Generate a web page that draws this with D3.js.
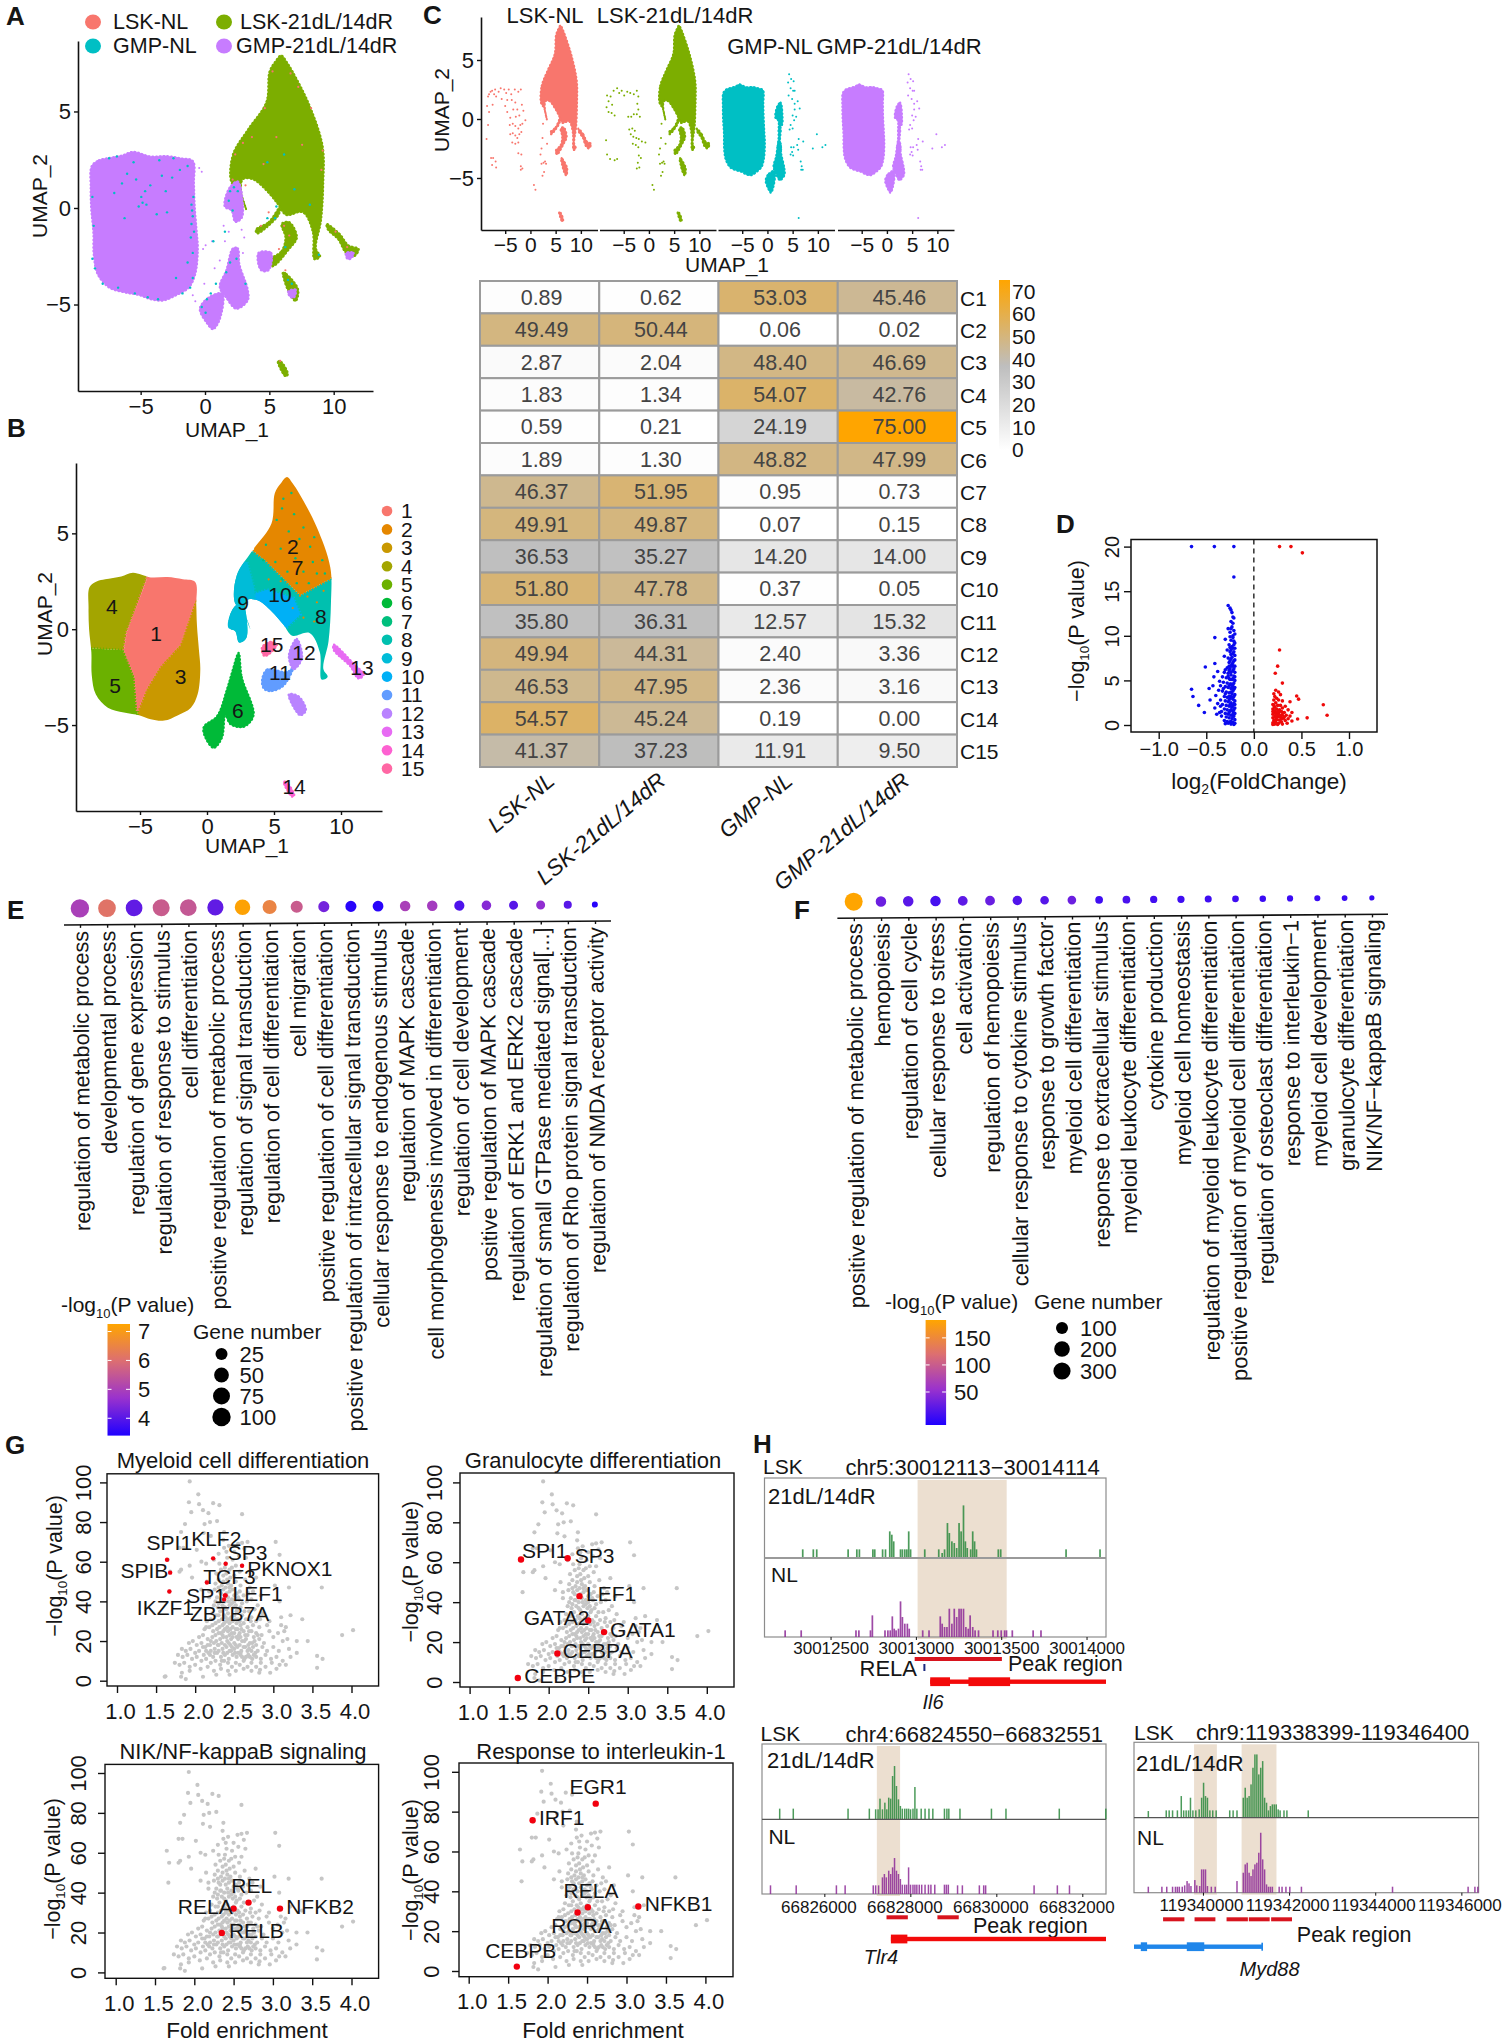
<!DOCTYPE html>
<html>
<head>
<meta charset="utf-8">
<script src="https://cdnjs.cloudflare.com/ajax/libs/d3/7.8.5/d3.min.js"></script>
<style>
  body { margin: 0; background: #fff; }
  svg { display: block; }
  text { font-family: "Liberation Sans", Arial, sans-serif; fill: #151515; }
</style>
</head>
<body>
<div id="chart"></div>
<script>
const gmpSquare = [[-8.76,2.2],[-8.2,2.5],[-7.6,2.6],[-6.4,2.75],[-5.53,2.94],[-4.2,2.7],[-2.95,2.72],[-1.8,2.6],[-0.88,2.46],[-0.8,1.3],[-0.75,0.2],[-0.6,-1.1],[-0.5,-2.1],[-0.7,-3.4],[-1.2,-4.1],[-2.2,-4.5],[-3.2,-4.77],[-4.2,-4.7],[-5.01,-4.5],[-6.2,-4.35],[-7.4,-4.1],[-8.3,-3.4],[-8.6,-2.4],[-8.63,-1.2],[-8.8,0],[-8.84,1.1]];
const gmpStemTop = [[1.96,1.09],[2.61,1.4],[3,0.23],[2.9,-0.5],[2.4,-0.7],[2.1,-0.1],[1.58,0.09]];
const gmpLink = [[2.3,-0.6],[2.6,-0.7],[2.5,-1.9],[2.7,-2.6],[2.1,-2.6],[2.2,-1.6]];
const gmpBlob = [[2.22,-2.06],[2.6,-2.06],[2.74,-2.91],[3.38,-4.2],[3.38,-4.77],[2.48,-5.2],[1.7,-4.63],[1.19,-4.06],[1.7,-3.2]];
const gmpTail = [[-0.36,-5.2],[0.28,-4.63],[1.4,-4.4],[1.19,-5.77],[0.67,-6.26],[0.16,-5.91]];
const lskBody = [[2.09,1.37],[2.22,2.8],[3.38,4.09],[4.81,5.51],[5.06,7.09],[5.5,7.6],[5.97,7.94],[6.4,7.6],[6.87,7.09],[8.16,5.37],[9.2,3.23],[9.25,1.37],[9.07,-0.63],[8.68,-2.06],[9,-2.49],[8.55,-2.63],[8.42,-1.2],[7.65,-0.2],[6.36,-0.34],[5.71,0.23],[4.81,0.94],[3.77,1.51],[3,1.51],[2.87,0.8],[3.26,-0.06],[2.74,0.9]];
const lskLegA = [[4,-1.1],[5,-0.7],[5.9,0.1],[5.8,-0.3],[4.9,-0.95],[4.1,-1.3]];
const lskLegB = [[5,-2.7],[6,-2.2],[6.3,-1.5],[6,-0.8],[6.6,-0.7],[7.2,-1.5],[6.6,-2.1],[5.3,-3]];
const lskLegC = [[6.1,-3.3],[6.4,-3.4],[7.3,-4.2],[7.1,-4.8],[6.6,-4.4]];
const lskStreak = [[9.5,-0.8],[10.5,-1.3],[11.2,-1.9],[12,-2.1],[11.6,-2.5],[11,-2.3],[10.4,-1.6],[9.6,-1.1]];
const lskBottom = [[5.7,-7.9],[6,-7.95],[6.5,-8.6],[6.3,-8.7]];
const gmpPatches = [[[4.2,-2.3],[5.2,-2.3],[5,-3.2],[4.4,-3.2]], [[6.5,-4.3],[7.1,-4.2],[7,-4.6],[6.7,-4.6]], [[11,-2.3],[11.6,-2.3],[11.4,-2.6],[11.1,-2.6]]];

// cluster regions for panel B; the first two groups get clipped to the outlines above
const clusterIds = ["1","2","3","4","5","6","7","8","9","10","11","12","13","14","15"];
const clusterColors = ["#F8766D","#E58700","#C99800","#A3A500","#6BB100","#00BA38","#00BF7D","#00C0AF","#00BCD8","#00B0F6","#619CFF","#B983FF","#E76BF3","#FD61D1","#FF67A4"];
const squareClusters = [
  ["3", [[-0.87,1.5],[0,1.6],[0.5,-6],[-5,-6],[-5.2,-4.3],[-4.5,-3.1],[-3.5,-1.95],[-2,-0.8]]],
  ["4", [[-10,4],[-4.5,4],[-4.5,2.6],[-6,-0.2],[-6.2,-1.1],[-10,-0.95]]],
  ["5", [[-10,-0.95],[-6.2,-1.1],[-5.4,-2.5],[-5,-6],[-10,-6]]],
  ["1", [[-4.5,4],[0,4],[0,1.6],[-0.87,1.5],[-2,-0.8],[-3.5,-1.95],[-4.5,-3.1],[-5.2,-4.3],[-5.4,-2.5],[-6.2,-1.1],[-6,-0.2],[-4.5,2.6]]]
];
const lobeClusters = [
  ["8", [[1,4],[3.5,4.07],[4.5,3.5],[6.95,1.78],[9.2,2.63],[10,2.8],[10,-3],[7,-3],[2,-1]]],
  ["2", [[3.5,4.07],[4,9],[10,9],[10,2.8],[9.2,2.63],[6.95,1.78],[4.5,3.5]]],
  ["10", [[3.23,1.78],[4.48,2.06],[6.47,1.63],[6.97,0.77],[5.97,0.1],[5.22,0.1],[4.48,0.5],[3.6,1.2]]],
  ["9", [[1,3.5],[3,3.5],[3.5,2.2],[3.6,1.49],[3.77,0],[3.4,-1.5],[1,-1.5]]]
];
const freeClusters = [
  ["6", [[2.36,-1.23],[2.6,-2.5],[3.48,-4.5],[2.74,-5.1],[1.74,-4.96],[1.37,-4.5],[1.12,-5.67],[0.5,-6.2],[-0.12,-5.67],[-0.25,-5.1],[0.75,-4.53],[1.5,-3.1],[1.87,-2.23]]],
  ["11", [[4.1,-2.66],[4.48,-2.1],[5.97,-2.23],[6.47,-1.95],[5.72,-2.95],[4.73,-3.24],[4.23,-3.1]]],
  ["12", [[6.1,-1.38],[6.7,-0.5],[7.1,-1.5],[6.47,-2.1]]],
  ["12", [[6.1,-3.4],[6.84,-3.5],[7.39,-4.24],[6.97,-4.5],[6.6,-4.24]]],
  ["13", [[9.45,-0.8],[10.95,-1.8],[11.7,-2.38],[11.3,-2.58],[10.7,-1.95],[9.45,-1.09]]],
  ["14", [[5.72,-7.97],[5.92,-7.97],[6.52,-8.68],[6.34,-8.74]]],
  ["15", [[4.1,-0.95],[4.73,-0.66],[5.22,-0.8],[4.48,-1.38],[4.23,-1.38]]]
];
const clusterLabelX = [-3.8,6.4,-1.97,-7.1,-6.86,2.3,6.77,8.5,2.7,5.45,5.45,7.24,11.57,6.5,4.83];
const clusterLabelY = [-0.23,4.28,-2.48,1.15,-2.97,-4.24,3.21,0.63,1.36,1.78,-2.27,-1.22,-1.99,-8.2,-0.8];

// ---- scattered cells ----
const tealSpeckle = [[-6,1.8],[-5.5,2.4],[-4.6,0.9],[-4.8,0.3],[-5.1,0.1],[-4.2,1.2],[-3.7,-0.3],[-3,0.9],[-2.5,1.6],[-1.9,2],[-1.3,2.2],[-1,0.2],[-0.9,-0.4],[-1,-0.8],[-0.8,-1.2],[-7.4,2.6],[-6.8,2.7],[-8.7,0.6],[-8.6,-0.9],[-7,0.8],[-6.2,-0.5],[-2.2,-3.6],[-0.9,-3.6],[-1.1,-4.1],[-3.6,-4.7],[-1.7,-4.4],[2,0.9],[2.3,1.1],[2.6,0.9],[1.9,0.4],[2.2,-0.1],[2.5,-2.6],[2,-2.8],[1.7,-3.3],[0.9,-3.9],[0.5,-4.4],[0.2,-4.7],[-0.2,-5.1],[0.1,-5.4],[3.2,-3.9],[5.6,0.1],[5.5,-0.5],[4.9,-0.5],[6.3,-2],[6.8,-3.9],[6.5,-3.7],[8.9,-2.4],[6.2,2.8],[4.9,2.4],[7,1],[8.2,0.2],[1.6,-1.2],[0.7,-1.7],[-4.9,0.6],[-4.5,0.2],[-5.3,1.5],[-6.4,1.3],[-3.3,1.7],[-2.9,-0.2],[-0.85,0.6],[-0.95,-0.1],[-1.05,-1.5],[-0.9,-2.3],[-1.3,-2.8],[-3.5,2.5],[-2.4,2.6],[-7.9,-3.9],[-6.7,-4.1],[-5.4,-4.4],[-4.4,-4.6],[-8.7,-2.6],[-8.5,-3.1]];
const salmonSpeckle = [[5.3,7.1],[6.7,7],[7.3,6.3],[8.3,5.2],[9.2,3],[9.1,2],[4.7,5.2],[3.7,3.7],[3,3.4],[2.4,2.8],[2.2,1.5],[3.2,1.2],[4.4,-0.9],[5,-0.2],[6.2,-0.9],[6.6,-1.4],[5.8,-2.1],[6.3,-3.2],[10.2,-1.2],[11.1,-2],[7.6,3.3],[5.6,3.7],[4.6,2.3],[5.9,-7.9]];
const purpleSpeckle = [[0.1,-1.9],[0.6,-1.7],[1.6,-1.7],[1.9,-1.2],[1.5,-0.9],[1.2,-2.7],[0.8,-3.1],[-0.1,-2.1],[-0.2,1.9],[-0.4,2.1],[0,-3.9],[-0.9,-4.5],[-0.7,-4.8],[3,-2.3],[3.1,-1.5],[2.9,-1.1],[0.4,-5.2]];
const speckleSeven = [[5.6,6.3],[6.5,6],[6.1,5.1],[7.2,5.3],[5.2,5.7],[6.9,4.7],[7.7,4.3],[5.5,4.2],[4.4,4.4],[6.6,3.7],[7.9,3.5],[8.6,3.6],[5.1,3.5],[6,3],[7.2,3],[8.2,2.9],[4.2,3.6],[5.6,2.6],[6.7,2.4],[7.6,2.4],[8.8,2.9],[5.7,6.8],[6.3,7.1],[8,4.8]];
const speckleOrange = [[7.5,1.7],[8.2,1.4],[8.7,2],[7.2,0.6],[6.4,1.1],[8,0.4],[4.6,2.6],[5.5,2.5]];
const sparseLskNl = [[-8.4,1.9],[-8.2,2.1],[-7.9,2.3],[-7.6,2.4],[-7.2,2.1],[-7,2.5],[-6.8,1.9],[-6.3,2.3],[-5.9,2.6],[-5.2,2.5],[-4.8,2.2],[-4.3,2.5],[-3.8,2.1],[-3.1,2.5],[-2.4,2.3],[-1.9,2.5],[-8.6,1.1],[-8.2,0.6],[-7.5,1.2],[-5.7,1.7],[-5,1.1],[-4.6,0.6],[-4,0.1],[-3.4,0.8],[-3,1.4],[-2.6,0.8],[-2.2,0.3],[-1.7,1.2],[-1.4,0.7],[-1,-0.1],[-4.6,1.6],[-3.7,1.6],[-2.9,0.2],[-8.4,-0.5],[-4.1,-0.5],[-3.5,-0.4],[-3,-0.6],[-2.4,-0.8],[-2,-0.5],[-1.6,-0.4],[-4,-1.3],[-3.5,-1.2],[-3,-1.4],[-2.6,-1.6],[-2.2,-1.3],[-1.8,-1.1],[-3.6,-2],[-3,-2.1],[-2.4,-2],[-8.7,-1.7],[-2.4,-2.9],[-1.8,-3],[-7.8,-3.3],[-7.4,-3.3],[-6.9,-3.6],[-7.6,-3.9],[-6.8,-4.1],[-1.9,-4],[-1.6,-4.2],[-1.9,-4.3]];
const sparseLskRd = [[-8.3,2],[-8,1.5],[-7.6,1.9],[-7.3,1.2],[-7,2.4],[-6.3,2.6],[-5.9,2.2],[-5.4,2.4],[-4.9,2],[-4.3,2.3],[-3.7,2.2],[-3,2.1],[-2.4,2.4],[-2.1,1.9],[-8.4,1],[-8,0.6],[-7.4,0.5],[-6.8,0.3],[-2.3,1.3],[-2.1,0.8],[-2.4,0.4],[-1.8,0.2],[-4.1,0.2],[-3.5,0.2],[-3,0.4],[-3.9,-0.9],[-3.3,-0.8],[-2.8,-1],[-3.6,-1.3],[-3.1,-1.5],[-2.5,-1.6],[-2,-1.7],[-1.4,-1.9],[-0.7,-2],[-3.2,-2.1],[-2.6,-2.2],[-2.1,-2.4],[-8.5,-1.8],[-8.3,-3],[-7.7,-3.4],[-6.8,-3.5],[-6.3,-3.4],[-2,-3.1],[-1.6,-3.3],[-2.2,-3.7],[-1.9,-4.1],[-2.4,-4.2]];
const sparseLskLow = [[2.5,-0.4],[2.4,-1.6],[2.2,-2.5],[2,-3],[2.9,-3.6],[2.6,-3.7],[3.1,-3.8],[2.7,-4.5],[2.4,-4.8],[0.7,-5.6],[1,-6],[3.3,-2.1],[2.2,-3.8]];
const sparseGmpRight = [[4.3,3.8],[4.7,3.4],[4.1,3.1],[5.2,3.2],[4.6,2.6],[4.2,2],[5.1,2.4],[5.4,2.4],[4.9,1.7],[5.4,1.3],[6,1.5],[5.4,0.8],[6.4,0.9],[5,0.3],[5.7,0.2],[5.3,-0.1],[4.6,-0.5],[5,-0.8],[4.4,-0.9],[6.2,-1.7],[9.8,-1.3],[9,-2.5],[10.9,-2.4],[11.5,-2.2],[6.2,-8.4],[7.1,-1.9],[5.9,-2.2],[6.1,-2.6],[5.2,-2.4],[4.7,-2.4],[4.6,-3],[5.1,-3.1],[4.9,-2.8],[6.8,-4],[7,-4.3],[6.6,-3.6],[6.7,-4.3]];

// ---- panel C heatmap ----
const heatGroups = ["LSK-NL","LSK-21dL/14dR","GMP-NL","GMP-21dL/14dR"];
const heatRows = ["C1","C2","C3","C4","C5","C6","C7","C8","C9","C10","C11","C12","C13","C14","C15"];
const heatLskNl = ["0.89","49.49","2.87","1.83","0.59","1.89","46.37","49.91","36.53","51.80","35.80","49.94","46.53","54.57","41.37"];
const heatLskRd = ["0.62","50.44","2.04","1.34","0.21","1.30","51.95","49.87","35.27","47.78","36.31","44.31","47.95","45.24","37.23"];
const heatGmpNl = ["53.03","0.06","48.40","54.07","24.19","48.82","0.95","0.07","14.20","0.37","12.57","2.40","2.36","0.19","11.91"];
const heatGmpRd = ["45.46","0.02","46.69","42.76","75.00","47.99","0.73","0.15","14.00","0.05","15.32","3.36","3.16","0.00","9.50"];
const heatTicks = [0,10,20,30,40,50,60,70];

// ---- panel D volcano ----
const volcanoBlue = [[-0.655,20],[-0.415,20],[-0.21,20],[-0.21,16.6],[-0.27,13.4],[-0.25,13.1],[-0.23,12.6],[-0.22,12.1],[-0.24,11.6],[-0.23,11],[-0.27,10.8],[-0.25,10.4],[-0.22,10],[-0.41,9.8],[-0.3,9.6],[-0.24,9.5],[-0.21,9.4],[-0.26,9],[-0.23,8.8],[-0.2,8.6],[-0.28,8.4],[-0.25,8.2],[-0.22,8],[-0.2,7.8],[-0.31,7.7],[-0.27,7.5],[-0.24,7.4],[-0.21,7.2],[-0.26,7],[-0.41,6.9],[-0.23,6.8],[-0.2,6.6],[-0.51,6.5],[-0.28,6.4],[-0.25,6.3],[-0.22,6.1],[-0.38,6],[-0.31,5.9],[-0.27,5.8],[-0.24,5.6],[-0.21,5.5],[-0.42,5.4],[-0.29,5.3],[-0.26,5.2],[-0.23,5.1],[-0.2,5],[-0.36,4.9],[-0.32,4.8],[-0.28,4.7],[-0.25,4.6],[-0.22,4.5],[-0.43,4.4],[-0.3,4.3],[-0.27,4.2],[-0.24,4.1],[-0.47,4.1],[-0.655,4],[-0.21,4],[-0.37,3.9],[-0.33,3.8],[-0.29,3.7],[-0.26,3.6],[-0.23,3.5],[-0.2,3.4],[-0.4,3.3],[-0.64,3.2],[-0.31,3.2],[-0.28,3.1],[-0.25,3],[-0.22,2.9],[-0.46,2.8],[-0.35,2.8],[-0.3,2.7],[-0.27,2.6],[-0.24,2.5],[-0.21,2.4],[-0.38,2.4],[-0.33,2.3],[-0.58,2.2],[-0.29,2.2],[-0.26,2.1],[-0.23,2],[-0.2,1.9],[-0.41,1.9],[-0.31,1.8],[-0.28,1.7],[-0.25,1.6],[-0.22,1.5],[-0.52,1.4],[-0.36,1.4],[-0.3,1.3],[-0.27,1.2],[-0.24,1.1],[-0.21,1],[-0.34,1],[-0.29,0.9],[-0.26,0.8],[-0.23,0.7],[-0.2,0.6],[-0.31,0.5],[-0.28,0.4],[-0.25,0.35],[-0.22,0.3],[-0.3,0.15],[-0.24,0.1],[-0.21,0.05],[-0.27,0.2],[-0.34,1.5],[-0.39,1.2],[-0.35,2.1],[-0.3,3.5],[-0.32,4.1],[-0.27,5.5],[-0.3,6.2],[-0.33,5.4],[-0.35,4.4],[-0.24,3.2],[-0.22,4.2],[-0.22,2.2],[-0.25,2.3],[-0.22,6.6],[-0.24,7.9],[-0.21,9],[-0.2,10.2],
  [-0.2,0.2],[-0.22,0.9],[-0.24,0.4],[-0.2,1.3],[-0.22,1.2],[-0.24,1.7],[-0.26,1.4],[-0.21,1.7],[-0.2,2.3],[-0.24,2.2],[-0.26,2.8],[-0.2,2.7],[-0.22,3.1],[-0.26,3.2],[-0.21,3.2],[-0.24,3.7],[-0.22,3.8],[-0.2,4.2],[-0.26,4.4],[-0.24,4.6],[-0.21,4.7],[-0.23,4.4],[-0.2,5.4],[-0.25,5.1],[-0.22,5.2],[-0.24,5.9],[-0.2,5.9],[-0.26,6.1],[-0.21,6.3],[-0.24,6.6],[-0.26,6.6],[-0.22,7],[-0.2,7.3],[-0.25,7.2],[-0.23,7.6],[-0.21,8.2],[-0.24,8.4],[-0.22,8.6],[-0.25,8.7],[-0.2,9.2],[-0.22,9.8],[-0.25,9.9],[-0.21,10.6],[-0.24,10.8],[-0.22,11.4],[-0.21,12],[-0.24,12.9]];
const volcanoRed = [[0.27,20],[0.39,20],[0.51,19.3],[0.27,8.4],[0.25,6.6],[0.225,5.8],[0.3,4.7],[0.23,3.9],[0.26,3.7],[0.21,3.5],[0.28,3.4],[0.45,3.25],[0.22,3.2],[0.24,3],[0.47,2.9],[0.21,2.8],[0.26,2.8],[0.3,2.7],[0.38,2.6],[0.23,2.5],[0.73,2.27],[0.2,2.3],[0.25,2.2],[0.28,2.2],[0.33,2.1],[0.22,2],[0.3,1.9],[0.2,1.8],[0.24,1.8],[0.27,1.7],[0.36,1.7],[0.21,1.5],[0.29,1.5],[0.32,1.4],[0.4,1.4],[0.23,1.3],[0.26,1.3],[0.2,1.2],[0.3,1.1],[0.77,1.1],[0.34,1.1],[0.38,1],[0.22,1],[0.25,0.9],[0.28,0.9],[0.56,0.8],[0.2,0.8],[0.31,0.75],[0.46,0.67],[0.36,0.7],[0.24,0.6],[0.27,0.55],[0.21,0.5],[0.33,0.5],[0.4,0.45],[0.29,0.35],[0.23,0.3],[0.2,0.25],[0.26,0.2],[0.35,0.2],[0.22,0.1],[0.3,0.1],[0.25,0.05],[0.2,0.05],[0.22,1.6],[0.24,1.1],[0.21,2.2],[0.26,1.6],[0.29,0.7],[0.32,0.9],[0.27,1.1],[0.3,1.4],[0.23,0.8],[0.25,1.5],[0.22,0.5],[0.2,1.5]];

// ---- panels E and F ----
const termsE = ["regulation of metabolic process","developmental process","regulation of gene expression","regulation of response to stimulus","cell differentiation","positive regulation of metabolic process","regulation of signal transduction","regulation of cell differentiation","cell migration","positive regulation of cell differentiation","positive regulation of intracellular signal transduction","cellular response to endogenous stimulus","regulation of MAPK cascade","cell morphogenesis involved in differentiation","regulation of cell development","positive regulation of MAPK cascade","regulation of ERK1 and ERK2 cascade","regulation of small GTPase mediated signal[...]","regulation of Rho protein signal transduction","regulation of NMDA receptor activity"];
const genesE = [100,88,72,75,72,66,58,44,26,22,22,21,20,20,19,17,15,15,12,5];
const pvalE = [5,6.1,4.1,5.6,5.5,4.1,7.2,6.5,5.6,4.3,3.5,3.5,5,4.9,3.9,4.5,4,4.6,4,3.5];
const termsF = ["positive regulation of metabolic process","hemopoiesis","regulation of cell cycle","cellular response to stress","cell activation","regulation of hemopoiesis","cellular response to cytokine stimulus","response to growth factor","myeloid cell differentiation","response to extracellular stimulus","myeloid leukocyte differentiation","cytokine production","myeloid cell homeostasis","regulation of myeloid leukocyte differentiation","positive regulation of myeloid cell differentiation","regulation of osteoclast differentiation","response to interleukin\u22121","myeloid cell development","granulocyte differentiation","NIK/NF\u2212kappaB signaling"];
const genesF = [350,80,80,80,70,70,66,55,55,42,42,36,36,33,28,25,22,20,16,8];
const pvalF = [183,30,20,10,22,28,16,18,30,6,12,8,6,6,6,4,4,4,3,2];
const legendGenesE = [25,50,75,100];
const legendGenesF = [100,200,300];
const legendPvalE = [4,5,6,7];
const legendPvalF = [50,100,150];

// ---- panel G: every TF, fold enrichment against -log10(P) ----
const tfCloud = [[1.93,100.5],[2.04,94],[1.92,90],[2.05,89],[2.23,89.5],[2.31,88.5],[1.95,85],[2.1,86],[2.17,84.5],[2.6,84],[2.19,80],[2.28,80.5],[1.87,79],[2.12,79],[1.82,75],[2.11,74.5],[2.37,75],[2.2,73],[2.36,71],[1.8,67],[1.85,67],[2.02,66],[2.37,67],[2.43,68],[2.5,65],[2.55,69],[2.6,69.5],[2.63,66.5],[2.67,70],[3.03,70],[2.3,64],[2.41,62],[2.48,61],[2.56,63],[2.65,62],[3.08,63.5],[1.65,61],[1.68,55],[1.82,56],[1.8,55],[1.93,58],[2.08,60],[2.14,59],[2.24,61],[2.39,59],[2.47,57],[2.52,58],[2.6,58],[2.33,56],[2.4,54],[2.45,52],[2.5,53],[2.57,55],[1.67,45],[1.96,52],[2.15,50],[2.26,49],[2.3,51],[2.36,50],[2.42,49],[2.46,48],[2.52,50],[2.58,48],[2.64,51],[2.7,47],[2.78,52],[3.02,48],[3.2,47],[3.62,47],[2.08,46],[2.18,45],[2.25,46],[2.31,45],[2.36,46],[2.4,44],[2.44,45],[2.48,46],[2.53,44],[2.57,45],[2.62,43],[2.68,44],[2.74,45],[2.84,43],[2.28,42],[2.33,41],[2.38,40],[2.42,42],[2.47,41],[2.5,40],[2.56,41],[2.6,39],[2.66,40],[2.72,41],[2.8,38],[3.08,40],[2.24,38],[2.29,37],[2.35,38],[2.4,36],[2.44,38],[2.49,37],[2.54,36],[2.58,37],[2.63,35],[2.69,35],[2.76,36],[2.86,34],[3.1,32],[2.22,34],[2.27,33],[2.32,35],[2.37,33],[2.42,34],[2.46,32],[2.5,33],[2.55,31],[2.6,33],[2.65,31],[2.72,32],[2.78,30],[2.83,31],[3.37,31],[2.15,30],[2.2,31],[2.26,29],[2.3,30],[2.35,28],[2.4,30],[2.44,29],[2.48,27],[2.53,29],[2.58,28],[2.62,29],[2.67,27],[2.74,28],[2.82,27],[2.92,28],[3.1,28],[3.16,27],[2.12,26],[2.18,27],[2.23,25],[2.28,26],[2.33,24],[2.38,26],[2.42,25],[2.47,24],[2.52,26],[2.57,24],[2.62,25],[2.67,23],[2.72,25],[2.78,24],[2.85,23],[2.95,25],[3.06,24],[3.14,25],[3.88,23],[4.02,25.5],[2.05,22],[2.1,23],[2.16,21],[2.22,22],[2.27,20],[2.32,21],[2.36,22],[2.41,20],[2.46,21],[2.5,19],[2.55,21],[2.6,20],[2.65,21],[2.7,19],[2.76,20],[2.82,21],[2.88,19],[3,22],[3.12,20],[3.18,21],[3.3,20],[3.44,20],[1.92,19],[1.97,20],[2.02,18],[2.08,19],[2.13,17],[2.19,18],[2.25,16],[2.3,18],[2.35,16],[2.4,17],[2.45,18],[2.5,16],[2.54,17],[2.59,15],[2.64,17],[2.69,16],[2.74,17],[2.8,15],[2.86,17],[2.92,15],[3,17],[3.07,15],[3.2,16],[3.3,14],[1.83,16],[1.88,15],[1.94,16],[2,14],[2.05,15],[2.11,13],[2.17,14],[2.23,12],[2.28,14],[2.33,12],[2.38,13],[2.43,11],[2.48,13],[2.53,12],[2.58,13],[2.63,11],[2.68,13],[2.73,11],[2.78,12],[2.84,11],[2.9,13],[2.97,11],[3.04,12],[3.12,10],[3.22,12],[3.56,12.5],[3.63,11],[1.78,13],[1.84,12],[1.9,13],[1.96,11],[2.02,12],[2.08,10],[2.14,11],[2.2,9],[2.26,10],[2.32,8],[2.37,10],[2.42,9],[2.47,7],[2.52,9],[2.57,8],[2.62,10],[2.67,7],[2.72,9],[2.78,7],[2.84,9],[2.9,7],[2.98,9],[3.08,8],[3.16,8],[3.56,6.5],[1.74,9],[1.8,8],[1.86,9],[1.93,7],[2,8],[2.07,6],[2.16,7],[2.24,5],[2.33,6],[2.42,5],[2.52,5],[2.62,6],[2.72,5],[2.82,4],[2.83,5.5],[2.96,4],[3.04,6],[1.61,2],[1.82,2],[1.83,4],[1.93,5],[2.1,2],[2.27,3],[2.44,3],[1.88,0.8],[1.62,2.2],[2.58,14],[2.44,15],[2.2,15],[2.34,10],[2.46,31],[2.33,44],[2.27,54],[2.4,65],[2.18,42],[2.53,35],[2.37,29],[2.56,23],[2.71,30],[2.22,28],[2.95,30],[3.22,33],[2.14,27],
  [2.3,33],[2.34,31],[2.39,32],[2.43,31],[2.48,30],[2.52,31],[2.57,30],[2.31,27],[2.36,25],[2.41,27],[2.45,26],[2.5,24],[2.54,26],[2.59,26],[2.64,23],[2.69,25],[2.75,22],[2.8,23],[2.26,23],[2.3,24],[2.35,23],[2.4,22],[2.44,23],[2.48,22],[2.53,22],[2.58,22],[2.63,20],[2.68,18],[2.73,19],[2.78,18],[2.2,20],[2.24,19],[2.29,18],[2.34,19],[2.38,18],[2.43,19],[2.47,17],[2.52,18],[2.57,18],[2.62,17],[2.67,15],[2.72,15],[2.77,14],[2.14,15],[2.19,13],[2.25,14],[2.3,15],[2.36,14],[2.41,14],[2.46,15],[2.51,14],[2.55,14],[2.6,12],[2.65,12],[2.7,12],[2.75,13],[2.1,17],[2.16,18],[2.34,41],[2.38,37],[2.43,40],[2.47,39],[2.52,38],[2.3,39],[2.26,40],[2.34,48],[2.39,47],[2.44,47],[2.3,47],[2.5,43],[2.55,42],[2.41,51],[2.36,53],[2.31,59],[2.38,57],[2.44,56]];
const g1Tfs = ["SPI1","SPIB","IKZF1","KLF2","SP3","PKNOX1","TCF3","LEF1","SP1","ZBTB7A"];
const g1Fold = [1.64,1.68,1.67,2.23,2.39,2.6,2.15,2.39,2.38,2.37];
const g1LogP = [61,54.5,45,61.7,59,58,49.5,43,43,41];
const g1LabelFold = [1.67,1.35,1.62,2.27,2.67,3.21,2.44,2.8,2.14,2.44];
const g1LabelLogP = [69.5,55.6,37,71.6,64.8,56.4,52.5,44,43,34];
const g2Tfs = ["SPI1","SP3","LEF1","GATA2","GATA1","CEBPA","CEBPE"];
const g2Fold = [1.65,2.24,2.39,2.5,2.7,2.11,1.61];
const g2LogP = [61.4,62,43,30.8,25,14.3,2];
const g2LabelFold = [1.95,2.58,2.79,2.1,3.19,2.62,2.14];
const g2LabelLogP = [65.9,63.5,44.5,32,26.3,15.9,3.3];
const g3Tfs = ["REL","RELA","NFKB2","RELB"];
const g3Fold = [2.69,2.5,3.09,2.35];
const g3LogP = [35,32,32,19.8];
const g3LabelFold = [2.73,2.14,3.6,2.79];
const g3LabelLogP = [43.5,33,33,21];
const g4Tfs = ["EGR1","IRF1","RELA","RORA","NFKB1","CEBPB"];
const g4Fold = [2.61,1.81,2.51,2.38,3.15,1.61];
const g4LogP = [84,75.7,32,29.4,32.4,2.2];
const g4LabelFold = [2.64,2.18,2.55,2.43,3.66,1.66];
const g4LabelLogP = [92.4,76.9,40.4,22.7,33.7,10.2];
const foldTicks = [1,1.5,2,2.5,3,3.5,4];
const logPTicks = [0,20,40,60,80,100];

// ---- panel H: coverage as [bp from window start, height] ----
const il6Rd = [[219,26],[281,26],[301,26],[485,26],[536,26],[551,26],[630,26],[641,26],[687,26],[704,26],[729,80],[741,70],[752,50],[792,26],[803,26],[817,26],[829,26],[840,80],[851,26],[934,26],[1016,26],[1036,15],[1050,26],[1067,105],[1078,75],[1093,50],[1107,45],[1121,30],[1135,105],[1147,80],[1161,158],[1172,50],[1183,30],[1203,26],[1215,80],[1226,50],[1237,26],[1365,26],[1379,26],[1762,26],[1961,26]];
const il6Nl = [[116,20],[210,20],[531,20],[548,20],[616,20],[627,65],[701,20],[718,20],[732,20],[744,62],[755,25],[766,20],[780,25],[792,107],[803,60],[817,40],[832,40],[843,25],[922,20],[959,20],[1025,62],[1036,40],[1050,30],[1064,30],[1078,85],[1093,40],[1107,85],[1121,60],[1135,85],[1147,85],[1161,85],[1175,30],[1189,25],[1200,65],[1215,30],[1229,20],[1249,20],[1334,20],[1362,20],[1382,20],[1402,20],[1413,20],[1447,20],[1569,20],[1615,20]];
const tlr4Rd = [[394,32],[710,32],[1984,32],[2479,32],[2626,30],[2682,30],[2727,62],[2784,30],[2840,50],[2885,30],[2930,65],[2975,62],[3020,130],[3065,160],[3110,100],[3156,60],[3201,40],[3246,32],[3302,32],[3347,32],[3392,32],[3437,30],[3494,32],[3539,97],[3584,32],[3685,32],[3775,32],[3866,32],[3956,32],[4226,32],[4283,32],[4328,32],[4587,32],[5319,32],[5657,32],[6897,32],[7979,32]];
const tlr4Nl = [[180,26],[778,26],[1713,26],[1916,26],[2570,26],[2626,26],[2694,26],[2784,50],[2829,60],[2874,50],[2930,70],[2975,60],[3020,80],[3065,108],[3110,70],[3156,60],[3201,45],[3246,28],[3302,28],[3347,28],[3392,80],[3437,28],[3494,28],[3539,28],[3584,28],[3640,28],[3697,28],[3775,28],[3854,28],[3911,28],[4001,28],[4226,28],[4271,28],[4316,28],[4531,26],[4643,26],[5038,26],[5139,26],[5184,26],[6311,26],[6852,26],[7134,26]];
const myd88Rd = [[315,20],[731,22],[799,22],[878,22],[990,22],[1080,65],[1136,22],[1193,22],[1249,22],[1294,60],[1350,22],[1418,22],[1496,25],[1553,60],[1598,105],[1643,65],[1688,60],[1744,22],[1811,22],[1890,22],[2205,22],[2284,22],[2374,22],[2520,60],[2565,90],[2610,60],[2655,65],[2700,100],[2745,150],[2790,190],[2835,190],[2880,130],[2925,150],[2970,170],[3015,60],[3060,45],[3105,22],[3150,35],[3195,40],[3240,40],[3285,40],[3330,25],[3375,22],[3465,22],[3533,22],[4028,22]];
const myd88Nl = [[315,18],[630,18],[743,18],[878,18],[945,18],[990,18],[1035,18],[1103,18],[1159,22],[1215,35],[1260,28],[1305,20],[1395,38],[1440,22],[1508,20],[1553,70],[1598,70],[1643,70],[1688,20],[1778,18],[1868,18],[2374,35],[2520,60],[2565,85],[2610,90],[2655,60],[2700,50],[2745,70],[2790,85],[2835,90],[2880,120],[2925,180],[2970,100],[3015,70],[3060,25],[3105,18],[3150,18],[3195,18],[3353,18],[3420,18],[3510,18],[3600,18],[3870,18],[5985,18],[7740,18],[7898,18],[7965,18]];
const il6Ticks = [30012500,30013000,30013500,30014000];
const tlr4Ticks = [66826000,66828000,66830000,66832000];
const myd88Ticks = [119340000,119342000,119344000,119346000];
const il6Highlight = [[897,1419]];
const tlr4Highlight = [[2671,3212]];
const myd88Highlight = [[1395,1924],[2498,3308]];
const il6Peaks = [[880,1391]];
const tlr4Peaks = [[2896,3392],[4080,4576]];
const myd88Peaks = [[675,1170],[1406,1890],[2149,2644],[2666,3150],[3184,3668]];
const il6Gene = [971,2001];
const tlr4Gene = [2998,8001];
const myd88Gene = [0,2981];
const il6Exons = [[971,1087],[1195,1439]];
const tlr4Exons = [[2998,3381]];
const myd88Exons = [[158,304],[1226,1631]];

const svg = d3.select("#chart").append("svg").attr("width", 1506).attr("height", 2040);
const defs = svg.append("defs");

function txt(x, y, s, o = {}) {
  const t = svg.append("text")
    .attr("x", x).attr("y", y).attr("dy", ".35em")
    .attr("font-size", o.size || 22)
    .attr("text-anchor", o.anchor || "start")
    .text(s);
  if (o.rotate) t.attr("transform", `rotate(${o.rotate},${x},${y})`);
  if (o.italic) t.attr("font-style", "italic");
  if (o.bold) t.attr("font-weight", "bold");
  if (o.fill) t.style("fill", o.fill);
  return t;
}

// -log10(P value) with a real subscript
function logTitle(x, y, s, o = {}) {
  const size = o.size || 22;
  const t = txt(x, y, null, o);
  t.append("tspan").text(s);
  t.append("tspan").attr("font-size", size * 0.62).attr("dy", size * 0.25).text("10");
  t.append("tspan").attr("dy", -size * 0.25).text("(P value)");
}

function styleAxis(g, size, width) {
  g.selectAll("text").attr("font-size", size).style("font-family", '"Liberation Sans", Arial, sans-serif').style("fill", "#151515");
  g.selectAll("line").attr("stroke", "#111").attr("stroke-width", width || 1.4);
  g.selectAll("path").attr("stroke", "#111").attr("stroke-width", width || 1.6);
  return g;
}

const minusFmt = d => d < 0 ? "\u2212" + (-d) : d;

const smoothLine = sc => d3.line().x(d => sc.x(d[0])).y(d => sc.y(d[1])).curve(d3.curveCatmullRomClosed.alpha(0.5));
const straightLine = sc => d3.line().x(d => sc.x(d[0])).y(d => sc.y(d[1])).curve(d3.curveLinearClosed);

function drawShape(g, sc, pts, color) {
  const d = smoothLine(sc)(pts);
  g.append("path").attr("d", d).attr("fill", color).attr("stroke", color).attr("stroke-width", 0.8);
  // rough edge of loose cells round the outline
  g.append("path").attr("d", d).attr("fill", "none").attr("stroke", color)
    .attr("stroke-width", 2).attr("stroke-linecap", "round").attr("stroke-dasharray", "0.6 3.1");
}

function drawDots(g, sc, pts, color, r) {
  g.selectAll(null).data(pts).enter().append("circle")
    .attr("cx", d => sc.x(d[0])).attr("cy", d => sc.y(d[1])).attr("r", r).attr("fill", color);
}

const lskShapes = [lskBody, lskLegA, lskLegB, lskLegC, lskStreak, lskBottom];
const gmpShapes = [gmpSquare, gmpStemTop, gmpBlob, gmpTail];

// ---- A ----
const LSKNL = "#F8766D", LSKRD = "#7CAE00", GMPNL = "#00BFC4", GMPRD = "#C77CFF";
{
  const sc = { x: d3.scaleLinear().domain([-5, 10]).range([140, 333]), y: d3.scaleLinear().domain([-5, 5]).range([305, 112]) };
  const g = svg.append("g");
  lskShapes.forEach(s => drawShape(g, sc, s, LSKRD));
  gmpShapes.forEach(s => drawShape(g, sc, s, GMPRD));
  gmpPatches.forEach(s => drawShape(g, sc, s, GMPRD));
  drawDots(g, sc, purpleSpeckle, GMPRD, 1);
  drawDots(g, sc, tealSpeckle, GMPNL, 1.2);
  drawDots(g, sc, salmonSpeckle, LSKNL, 1.1);
  const axX = d3.scaleLinear().domain([(78 - 205) / 12.87, (373 - 205) / 12.87]).range([78, 373]);
  const axY = d3.scaleLinear().domain([-9.48, 8.65]).range([391, 41]);
  styleAxis(svg.append("g").attr("transform", "translate(0,391)").call(d3.axisBottom(axX).tickValues([-5, 0, 5, 10]).tickFormat(minusFmt).tickSize(4).tickSizeOuter(0)), 22);
  styleAxis(svg.append("g").attr("transform", "translate(78,0)").call(d3.axisLeft(axY).tickValues([-5, 0, 5]).tickFormat(minusFmt).tickSize(4).tickSizeOuter(0)), 22);
  txt(40, 196, "UMAP_2", { anchor: "middle", rotate: -90, size: 21 });
  txt(227, 430, "UMAP_1", { anchor: "middle", size: 21 });
  const legend = [[93, 22, LSKNL, 113, "LSK-NL"], [93, 46, GMPNL, 113, "GMP-NL"], [224, 22, LSKRD, 240, "LSK-21dL/14dR"], [224, 46, GMPRD, 236, "GMP-21dL/14dR"]];
  legend.forEach(d => {
    svg.append("ellipse").attr("cx", d[0]).attr("cy", d[1]).attr("rx", 8).attr("ry", 7.5).attr("fill", d[2]);
    txt(d[3], d[1] - 1, d[4], { size: 21.5 });
  });
}

// ---- B ----
{
  const sc = { x: d3.scaleLinear().domain([-5, 10]).range([140, 341]), y: d3.scaleLinear().domain([-5, 5]).range([725, 533.3]) };
  const color = d3.scaleOrdinal().domain(clusterIds).range(clusterColors);
  const clipSq = defs.append("clipPath").attr("id", "clipSquare");
  clipSq.append("path").attr("d", smoothLine(sc)(gmpSquare));
  const clipLobe = defs.append("clipPath").attr("id", "clipLobe");
  clipLobe.append("path").attr("d", smoothLine(sc)(lskBody));
  clipLobe.append("path").attr("d", smoothLine(sc)(gmpStemTop));
  const gSq = svg.append("g").attr("clip-path", "url(#clipSquare)");
  squareClusters.forEach(d => {
    gSq.append("path").attr("d", straightLine(sc)(d[1])).attr("fill", color(d[0])).attr("stroke", color(d[0]))
      .attr("stroke-width", 3).attr("stroke-dasharray", "1 2");
  });
  const gLobe = svg.append("g").attr("clip-path", "url(#clipLobe)");
  lobeClusters.forEach(d => {
    gLobe.append("path").attr("d", straightLine(sc)(d[1])).attr("fill", color(d[0])).attr("stroke", color(d[0]))
      .attr("stroke-width", 3).attr("stroke-dasharray", "1 2");
  });
  const g = svg.append("g");
  freeClusters.forEach(d => drawShape(g, sc, d[1], color(d[0])));
  drawDots(g, sc, speckleSeven, color("7"), 1.2);
  drawDots(g, sc, speckleOrange, color("2"), 1.1);
  const axX = d3.scaleLinear().domain([(76 - 207) / 13.4, (382 - 207) / 13.4]).range([76, 382]);
  const axY = d3.scaleLinear().domain([(629.2 - 811) / 19.17, (629.2 - 463) / 19.17]).range([811, 463]);
  styleAxis(svg.append("g").attr("transform", "translate(0,811)").call(d3.axisBottom(axX).tickValues([-5, 0, 5, 10]).tickFormat(minusFmt).tickSize(4).tickSizeOuter(0)), 22);
  styleAxis(svg.append("g").attr("transform", "translate(76,0)").call(d3.axisLeft(axY).tickValues([-5, 0, 5]).tickFormat(minusFmt).tickSize(4).tickSizeOuter(0)), 22);
  txt(45, 614, "UMAP_2", { anchor: "middle", rotate: -90, size: 21 });
  txt(247, 846, "UMAP_1", { anchor: "middle", size: 21 });
  clusterIds.forEach((id, i) => {
    txt(sc.x(clusterLabelX[i]), sc.y(clusterLabelY[i]), id, { anchor: "middle", size: 21 });
    const ly = d3.scalePoint().domain(clusterIds).range([511, 768.6])(id);
    svg.append("circle").attr("cx", 387).attr("cy", ly).attr("r", 5.3).attr("fill", color(id));
    txt(401, ly, id, { size: 21 });
  });
}

// ---- C facets ----
{
  const facets = [
    { x0: 481, title: "LSK-NL", tx: 545, ty: 15, color: LSKNL, shapes: lskShapes, dots: sparseLskNl.concat(sparseLskLow) },
    { x0: 599.5, title: "LSK-21dL/14dR", tx: 675, ty: 15, color: LSKRD, shapes: lskShapes, dots: sparseLskRd.concat(sparseLskLow) },
    { x0: 718, title: "GMP-NL", tx: 770, ty: 46, color: GMPNL, shapes: gmpShapes.concat([gmpLink]), dots: sparseGmpRight },
    { x0: 837.5, title: "GMP-21dL/14dR", tx: 899, ty: 46, color: GMPRD, shapes: gmpShapes.concat([gmpLink]), dots: sparseGmpRight }
  ];
  facets.forEach(f => {
    const sc = {
      x: d3.scaleLinear().domain([-9.8, 13.3]).range([f.x0, f.x0 + 116.5]),
      y: d3.scaleLinear().domain([-5, 5]).range([178, 60])
    };
    const g = svg.append("g");
    f.shapes.forEach(s => drawShape(g, sc, s, f.color));
    drawDots(g, sc, f.dots, f.color, 1);
    styleAxis(svg.append("g").attr("transform", "translate(0,230)").call(d3.axisBottom(sc.x).tickValues([-5, 0, 5, 10]).tickFormat(minusFmt).tickSize(4).tickSizeOuter(0)), 21);
    txt(f.tx, f.ty, f.title, { anchor: "middle", size: 22 });
  });
  const axY = d3.scaleLinear().domain([-5 - 52 / 11.8, 5 + 43 / 11.8]).range([230, 17]);
  styleAxis(svg.append("g").attr("transform", "translate(481,0)").call(d3.axisLeft(axY).tickValues([-5, 0, 5]).tickFormat(minusFmt).tickSize(4).tickSizeOuter(0)), 22);
  txt(442, 110, "UMAP_2", { anchor: "middle", rotate: -90, size: 21 });
  txt(727, 265, "UMAP_1", { anchor: "middle", size: 21 });
}

// ---- C heatmap ----
{
  const x = d3.scaleBand().domain(heatGroups).range([480, 957]);
  const y = d3.scaleBand().domain(heatRows).range([281, 767]);
  const color = d3.scaleLinear().domain([0, 37, 75]).range(["#ffffff", "#bebebe", "#ffa500"]);
  const columns = [heatLskNl, heatLskRd, heatGmpNl, heatGmpRd];
  columns.forEach((vals, c) => {
    vals.forEach((v, r) => {
      svg.append("rect").attr("x", x(heatGroups[c])).attr("y", y(heatRows[r]))
        .attr("width", x.bandwidth()).attr("height", y.bandwidth())
        .attr("fill", color(+v)).attr("stroke", "#9b9b9b").attr("stroke-width", 2);
      txt(x(heatGroups[c]) + x.bandwidth() / 2 + 2, y(heatRows[r]) + y.bandwidth() / 2, v, { anchor: "middle", size: 21.5, fill: "#444" });
    });
  });
  heatRows.forEach(r => txt(960, y(r) + y.bandwidth() / 2 + 1, r, { size: 21 }));
  const labelEnds = [[551, 777], [662, 777], [789, 777], [906, 777]];
  heatGroups.forEach((gr, i) => txt(labelEnds[i][0], labelEnds[i][1], gr, { anchor: "end", rotate: -40, italic: true, size: 22.5 }));
  const grad = defs.append("linearGradient").attr("id", "heatGrad").attr("x1", 0).attr("x2", 0).attr("y1", 1).attr("y2", 0);
  const barY = d3.scaleLinear().domain([0, 75]).range([450, 280]);
  [0, 37, 75].forEach(v => grad.append("stop").attr("offset", v / 75).attr("stop-color", color(v)));
  svg.append("rect").attr("x", 999).attr("y", barY(75)).attr("width", 11).attr("height", barY(0) - barY(75)).attr("fill", "url(#heatGrad)");
  heatTicks.forEach(t => txt(1012, barY(t), t, { size: 21 }));
}

// ---- D ----
{
  const x = d3.scaleLinear().domain([-1, 1]).range([1158.7, 1349]);
  const y = d3.scaleLinear().domain([0, 20]).range([725, 546.6]);
  svg.append("rect").attr("x", 1131).attr("y", 539.5).attr("width", 246).attr("height", 192.5)
    .attr("fill", "none").attr("stroke", "#111").attr("stroke-width", 1.5);
  svg.append("line").attr("x1", x(0)).attr("x2", x(0)).attr("y1", 539.5).attr("y2", 732)
    .attr("stroke", "#111").attr("stroke-width", 1.3).attr("stroke-dasharray", "5 4");
  svg.selectAll(null).data(volcanoBlue).enter().append("circle")
    .attr("cx", d => x(d[0])).attr("cy", d => y(d[1])).attr("r", 1.8).attr("fill", "#0a0aee");
  svg.selectAll(null).data(volcanoRed).enter().append("circle")
    .attr("cx", d => x(d[0])).attr("cy", d => y(d[1])).attr("r", 1.8).attr("fill", "#ee0a0a");
  const ax = styleAxis(svg.append("g").attr("transform", "translate(0,732)").call(d3.axisBottom(x).tickValues([-1, -0.5, 0, 0.5, 1]).tickFormat(d => d3.format(".1f")(d)).tickSize(7)), 20);
  ax.select(".domain").remove();
  const ay = styleAxis(svg.append("g").attr("transform", "translate(1131,0)").call(d3.axisLeft(y).tickValues([0, 5, 10, 15, 20]).tickSize(7)), 20);
  ay.select(".domain").remove();
  ay.selectAll("text").attr("x", 0).attr("y", 0).attr("dy", ".35em").attr("text-anchor", "middle")
    .attr("transform", "translate(-19,0) rotate(-90)");
  logTitle(1076, 631, "\u2212log", { anchor: "middle", rotate: -90, size: 21.5 });
  const t = txt(1259, 781, null, { anchor: "middle", size: 22.5 });
  t.append("tspan").text("log");
  t.append("tspan").attr("font-size", 14).attr("dy", 5).text("2");
  t.append("tspan").attr("dy", -5).text("(FoldChange)");
}

// ---- E, F ----
const dotColorStops = ["#1f00ff", "#9a32cd", "#dd6f70", "#ffa500"];
function termPanel(p) {
  const g = svg.append("g").attr("transform", `rotate(${p.tilt},${p.lineX[0]},${p.baseY})`);
  const x = d3.scalePoint().domain(p.terms).range(p.xRange);
  const r = d3.scaleLinear().domain(p.sizeDomain).range(p.sizeRange);
  const color = d3.scaleLinear().domain(p.colorDomain).range(dotColorStops);
  g.append("line").attr("x1", p.lineX[0]).attr("x2", p.lineX[1]).attr("y1", p.baseY).attr("y2", p.baseY).attr("stroke", "#111").attr("stroke-width", 1.6);
  g.selectAll("circle").data(p.terms).enter().append("circle")
    .attr("cx", d => x(d)).attr("cy", p.baseY - p.dotUp)
    .attr("r", (d, i) => r(p.genes[i])).attr("fill", (d, i) => color(p.pvals[i]));
  const ax = g.append("g").attr("transform", `translate(0,${p.baseY})`).call(d3.axisBottom(x).tickSize(3).tickSizeOuter(0));
  ax.select(".domain").remove();
  styleAxis(ax, p.fontSize);
  ax.selectAll("text").attr("transform", "rotate(-90)").attr("x", -p.pad).attr("y", 0).attr("dy", ".35em").attr("text-anchor", "end");

  logTitle(p.titleX, p.titleY, "-log", { size: 21 });
  const gradId = "grad" + p.id;
  const grad = defs.append("linearGradient").attr("id", gradId).attr("x1", 0).attr("x2", 0).attr("y1", 1).attr("y2", 0);
  const d0 = p.colorDomain[0], d1 = p.colorDomain[3];
  p.colorDomain.forEach((v, i) => grad.append("stop").attr("offset", (v - d0) / (d1 - d0)).attr("stop-color", dotColorStops[i]));
  const by = d3.scaleLinear().domain([d0, d1]).range(p.barY);
  svg.append("rect").attr("x", p.barX).attr("y", p.barY[1]).attr("width", p.barW).attr("height", p.barY[0] - p.barY[1]).attr("fill", `url(#${gradId})`);
  p.pTicks.forEach(t => {
    svg.append("line").attr("x1", p.barX).attr("x2", p.barX + 4).attr("y1", by(t)).attr("y2", by(t)).attr("stroke", "#fff");
    svg.append("line").attr("x1", p.barX + p.barW - 4).attr("x2", p.barX + p.barW).attr("y1", by(t)).attr("y2", by(t)).attr("stroke", "#fff");
    txt(p.barX + p.barW + 8, by(t), t, { size: 22 });
  });
  txt(p.geneTitleX, p.geneTitleY, "Gene number", { size: 21 });
  p.legendGenes.forEach((v, i) => {
    svg.append("circle").attr("cx", p.legendX).attr("cy", p.legendY[i]).attr("r", r(v)).attr("fill", "#000");
    txt(p.legendX + 18, p.legendY[i], v, { size: 22 });
  });
}
termPanel({ id: "E", terms: termsE, genes: genesE, pvals: pvalE, xRange: [80, 595], lineX: [64, 611], baseY: 925, tilt: -0.42, dotUp: 16.5,
  sizeDomain: [5, 25, 50, 75, 100], sizeRange: [3, 6, 7.4, 8.5, 9.2], colorDomain: [3.4, 4.7, 6, 7.26], fontSize: 21.7, pad: 6,
  titleX: 61, titleY: 1305, barX: 107.5, barW: 22.5, barY: [1435.6, 1324], pTicks: legendPvalE,
  geneTitleX: 193, geneTitleY: 1332, legendGenes: legendGenesE, legendX: 221.5, legendY: [1354, 1375, 1396, 1417] });
termPanel({ id: "F", terms: termsF, genes: genesF, pvals: pvalF, xRange: [853.8, 1372], lineX: [837.4, 1388], baseY: 918.3, tilt: -0.42, dotUp: 16.5,
  sizeDomain: [5, 100, 200, 300, 350], sizeRange: [2.5, 6, 7.8, 8.6, 9], colorDomain: [-11, 55, 120, 183], fontSize: 22, pad: 5,
  titleX: 885, titleY: 1302, barX: 925.6, barW: 20.5, barY: [1425, 1320], pTicks: legendPvalF,
  geneTitleX: 1034, geneTitleY: 1302, legendGenes: legendGenesF, legendX: 1062, legendY: [1328, 1349, 1371] });

// ---- G ----
const gPanels = [
  { title: "Myeloid cell differentiation", tx: 243, ty: 1460, box: [107, 378.6, 1473.8, 1686], xr: [117, 351.5], yr: [1680.7, 1482.4], tfs: g1Tfs, fold: g1Fold, logp: g1LogP, lf: g1LabelFold, ll: g1LabelLogP, r: 2.2, xLabel: false, ax: 83, ty2: 54.5, yc: 1566 },
  { title: "Granulocyte differentiation", tx: 593, ty: 1460, box: [460, 734, 1473, 1687], xr: [469.6, 706.8], yr: [1682, 1482.4], tfs: g2Tfs, fold: g2Fold, logp: g2LogP, lf: g2LabelFold, ll: g2LabelLogP, r: 3.2, xLabel: false, ax: 434, ty2: 410, yc: 1571.6 },
  { title: "NIK/NF-kappaB signaling", tx: 243, ty: 1751, box: [105, 378.6, 1764.4, 1978.3], xr: [115.7, 351.5], yr: [1972.4, 1773], tfs: g3Tfs, fold: g3Fold, logp: g3LogP, lf: g3LabelFold, ll: g3LabelLogP, r: 3.2, xLabel: 247, ax: 78, ty2: 52, yc: 1869 },
  { title: "Response to interleukin-1", tx: 601, ty: 1751, box: [459, 733, 1763, 1976.7], xr: [468.7, 705.4], yr: [1971, 1771.8], tfs: g4Tfs, fold: g4Fold, logp: g4LogP, lf: g4LabelFold, ll: g4LabelLogP, r: 3.2, xLabel: 603, ax: 431.7, ty2: 410, yc: 1870 }
];
gPanels.forEach(p => {
  const x = d3.scaleLinear().domain([1, 4]).range(p.xr);
  const y = d3.scaleLinear().domain([0, 100]).range(p.yr);
  svg.selectAll(null).data(tfCloud).enter().append("circle")
    .attr("cx", d => x(d[0])).attr("cy", d => y(d[1])).attr("r", 2.1).attr("fill", "#c6c6c6");
  svg.append("rect").attr("x", p.box[0]).attr("y", p.box[2]).attr("width", p.box[1] - p.box[0]).attr("height", p.box[3] - p.box[2])
    .attr("fill", "none").attr("stroke", "#111").attr("stroke-width", 1.4);
  const ax = styleAxis(svg.append("g").attr("transform", `translate(0,${p.box[3]})`).call(d3.axisBottom(x).tickValues(foldTicks).tickFormat(d3.format(".1f")).tickSize(7).tickPadding(10)), 22);
  ax.select(".domain").remove();
  ax.selectAll("text").attr("dx", 3);
  const ay = styleAxis(svg.append("g").attr("transform", `translate(${p.box[0]},0)`).call(d3.axisLeft(y).tickValues(logPTicks).tickSize(7)), 22);
  ay.select(".domain").remove();
  ay.selectAll("text").attr("text-anchor", "middle").attr("dy", ".35em").attr("x", 0).attr("y", 0)
    .attr("transform", `translate(${p.ax - p.box[0]},0) rotate(-90)`);
  p.tfs.forEach((tf, i) => {
    svg.append("circle").attr("cx", x(p.fold[i])).attr("cy", y(p.logp[i])).attr("r", p.r).attr("fill", "#f2000f");
    txt(x(p.lf[i]), y(p.ll[i]), tf, { anchor: "middle", size: 21 });
  });
  txt(p.tx, p.ty, p.title, { anchor: "middle", size: 22 });
  logTitle(p.ty2, p.yc, "\u2212log", { anchor: "middle", rotate: -90, size: 21.5 });
  if (p.xLabel) txt(p.xLabel, 2030, "Fold enrichment", { anchor: "middle", size: 22.5 });
});

// ---- H ----
const hPanels = [
  { start: 30012113, span: 2001, range: [764.5, 1106], top: 1478, mid: 1558, bottom: 1637, hi: il6Highlight, rd: il6Rd, nl: il6Nl, ticks: il6Ticks, bar: 10, tickDx: 0,
    lsk: [763, 1467], chr: "chr5:30012113\u221230014114", chrX: 845.5, rdLabel: [768, 1496], nlLabel: [771, 1575], tickY: 1648, midColor: "#9a9a9a", midW: 2,
    peaks: il6Peaks, peakY: 1659, peakText: [1008, 1663], gene: il6Gene, exons: il6Exons, geneY: 1681.7, geneColor: "#f30a0a", name: "Il6", nameXY: [933, 1702], end: false },
  { start: 66824550, span: 8001, range: [762, 1106], top: 1744, mid: 1819.3, bottom: 1894, hi: tlr4Highlight, rd: tlr4Rd, nl: tlr4Nl, ticks: tlr4Ticks, bar: 30, tickDx: -6,
    lsk: [760.6, 1734], chr: "chr4:66824550\u221266832551", chrX: 845.5, rdLabel: [767, 1760.7], nlLabel: [768.4, 1836.7], tickY: 1907, midColor: "#555", midW: 1.3,
    peaks: tlr4Peaks, peakY: 1917.3, peakText: [973, 1925], gene: tlr4Gene, exons: tlr4Exons, geneY: 1939, geneColor: "#f30a0a", name: "Tlr4", nameXY: [881, 1957], end: false },
  { start: 119338399, span: 8001, range: [1134, 1478.6], top: 1742.3, mid: 1817.7, bottom: 1892.7, hi: myd88Highlight, rd: myd88Rd, nl: myd88Nl, ticks: myd88Ticks, bar: 30, tickDx: -2,
    lsk: [1134, 1732.7], chr: "chr9:119338399-119346400", chrX: 1196, rdLabel: [1136, 1763], nlLabel: [1137, 1837.7], tickY: 1905, midColor: "#555", midW: 1.3,
    peaks: myd88Peaks, peakY: 1919.3, peakText: [1296.8, 1934], gene: myd88Gene, exons: myd88Exons, geneY: 1946.7, geneColor: "#1f86ea", name: "Myd88", nameXY: [1269.6, 1969], end: true }
];
hPanels.forEach(p => {
  const x = d3.scaleLinear().domain([0, p.span]).range(p.range);
  const xG = d3.scaleLinear().domain([p.start, p.start + p.span]).range(p.range);
  const h = d3.scaleLinear().domain([0, 100]).range([0, 33.3]);
  p.hi.forEach(d => svg.append("rect").attr("x", x(d[0])).attr("y", p.top + 2).attr("width", x(d[1]) - x(d[0])).attr("height", p.bottom - p.top).attr("fill", "#ecdfd0"));
  svg.append("rect").attr("x", p.range[0]).attr("y", p.top).attr("width", p.range[1] - p.range[0]).attr("height", p.bottom - p.top)
    .attr("fill", "none").attr("stroke", "#8c8c8c").attr("stroke-width", 1.2);
  [[p.rd, p.mid, "#2d8a3e"], [p.nl, p.bottom, "#8d2a96"]].forEach(t => {
    svg.selectAll(null).data(t[0]).enter().append("rect")
      .attr("x", d => x(d[0])).attr("width", Math.max(1.5, x(p.bar) - x(0)))
      .attr("y", d => t[1] - h(d[1])).attr("height", d => h(d[1])).attr("fill", t[2]).attr("fill-opacity", 0.85);
  });
  svg.append("line").attr("x1", p.range[0]).attr("x2", p.range[1]).attr("y1", p.mid).attr("y2", p.mid).attr("stroke", p.midColor).attr("stroke-width", p.midW);
  const ax = svg.append("g").attr("transform", `translate(0,${p.bottom})`).call(d3.axisBottom(xG).tickValues(p.ticks).tickFormat(d3.format("d")).tickSize(3).tickPadding(2));
  styleAxis(ax, 17, 1);
  ax.select(".domain").remove();
  ax.selectAll("text").attr("y", 0).attr("dy", ".35em").attr("transform", `translate(${p.tickDx},${p.tickY - p.bottom})`);
  txt(p.lsk[0], p.lsk[1], "LSK", { size: 21 });
  txt(p.chrX, p.lsk[1], p.chr, { size: 22 });
  txt(p.rdLabel[0], p.rdLabel[1], "21dL/14dR", { size: 22 });
  txt(p.nlLabel[0], p.nlLabel[1], "NL", { size: 21 });
  p.peaks.forEach(d => svg.append("rect").attr("x", x(d[0])).attr("y", p.peakY - 2).attr("width", x(d[1]) - x(d[0])).attr("height", 4).attr("fill", "#d8141e"));
  txt(p.peakText[0], p.peakText[1], "Peak region", { size: 21.5 });
  svg.append("rect").attr("x", x(p.gene[0])).attr("y", p.geneY - 2.2).attr("width", x(p.gene[1]) - x(p.gene[0])).attr("height", 4.4).attr("fill", p.geneColor);
  p.exons.forEach(d => svg.append("rect").attr("x", x(d[0])).attr("y", p.geneY - 4.4).attr("width", x(d[1]) - x(d[0])).attr("height", 8.8).attr("fill", p.geneColor));
  if (p.end) svg.append("rect").attr("x", x(p.gene[1]) - 1).attr("y", p.geneY - 4).attr("width", 1.6).attr("height", 8).attr("fill", p.geneColor);
  txt(p.nameXY[0], p.nameXY[1], p.name, { anchor: "middle", italic: true, size: 20 });
});
// RELA motif under the Il6 track
{
  const x = d3.scaleLinear().domain([0, 2001]).range(hPanels[0].range);
  svg.append("rect").attr("x", x(931)).attr("y", 1664).attr("width", 2).attr("height", 7).attr("fill", "#1c2a80");
  txt(917, 1668, "RELA", { anchor: "end", size: 22 });
}

// panel letters
[["A", 6, 16], ["B", 7, 428], ["C", 423, 15], ["D", 1056, 524], ["E", 7, 910], ["F", 794, 910], ["G", 5, 1445], ["H", 753, 1444]]
  .forEach(d => txt(d[1], d[2], d[0], { bold: true, size: 26 }));
</script>
</body>
</html>
